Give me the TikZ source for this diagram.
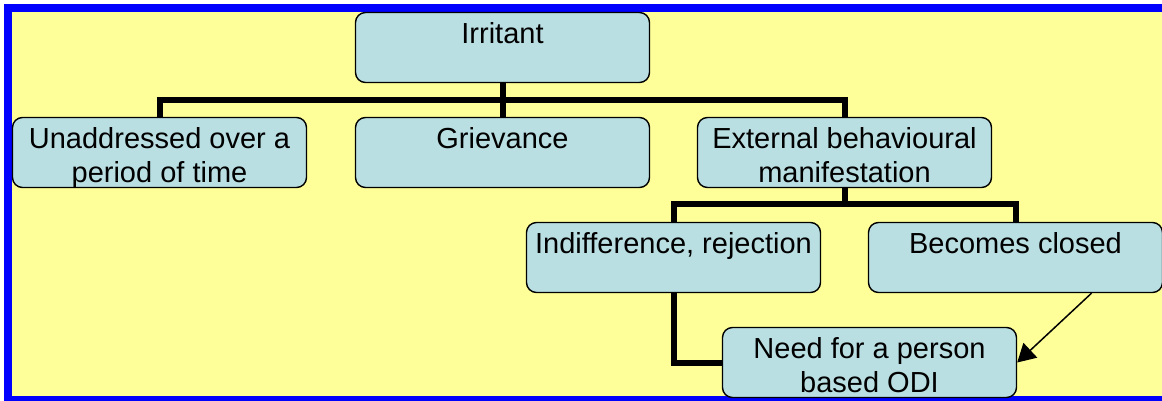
\documentclass[tikz,border=0pt]{standalone}
\usepackage{fontspec}
\setmainfont{Liberation Sans}
\usepackage{xcolor}
\usetikzlibrary{arrows.meta,positioning}
\definecolor{framefill}{RGB}{255,255,153}
\definecolor{boxblue}{RGB}{186,223,227}

\begin{document}
\begin{tikzpicture}[
        x=1pt, y=-1pt,
        node distance=33.6pt and 46.6pt,
        orgbox/.style={draw, line width=1.4pt, rounded corners=10pt, fill=boxblue, minimum width=294pt, minimum height=70pt, inner sep=0pt},
        boxtext/.style={anchor=north, yshift=-10pt, inner sep=0pt, align=center, font=\fontsize{29}{34}\selectfont},
        branch/.style={line width=6pt},
        >={Triangle[length=18pt,width=20pt]}
    ]
        \useasboundingbox (0,0) rectangle (1162,400);
        \clip (0,0) rectangle (1162,400);
        \fill[blue] (4,4) rectangle (1200,440);
        \fill[framefill] (12,12) rectangle (1200,396);

        \node[orgbox, label={[boxtext]north:Irritant}] (irritant) at (502.5,47.5) {};
        \node[orgbox, below=of irritant, label={[boxtext]north:Grievance}] (grievance) {};
        \node[orgbox, left=47.6pt of grievance, label={[boxtext]north:Unaddressed over a\\period of time}] (unaddressed) {};
        \node[orgbox, right=of grievance, label={[boxtext]north:External behavioural\\manifestation}] (external) {};
        \node[orgbox, below=of external, xshift=-171pt, label={[boxtext]north:Indifference, rejection}] (indiff) {};
        \node[orgbox, right=of indiff, label={[boxtext]north:Becomes closed}] (closed) {};
        \node[orgbox, below=of indiff, xshift=196pt, label={[boxtext]north:Need for a person\\based ODI}] (need) {};

        \coordinate (bus1) at (0,100);
        \coordinate (bus2) at (0,204);

        \draw[branch] (irritant.south) -- (grievance.north);
        \draw[branch] (irritant.south |- bus1) -| (unaddressed.north);
        \draw[branch] (irritant.south |- bus1) -| (external.north);
        \draw[branch] (external.south) -- (external.south |- bus2) -| (indiff.north);
        \draw[branch] (external.south |- bus2) -| (closed.north);
        \draw[branch] (indiff.south) |- (need.west);
        \draw[->, line width=1.5pt] ([xshift=76pt]closed.south) -- (need.east);
    \end{tikzpicture}
\end{document}
